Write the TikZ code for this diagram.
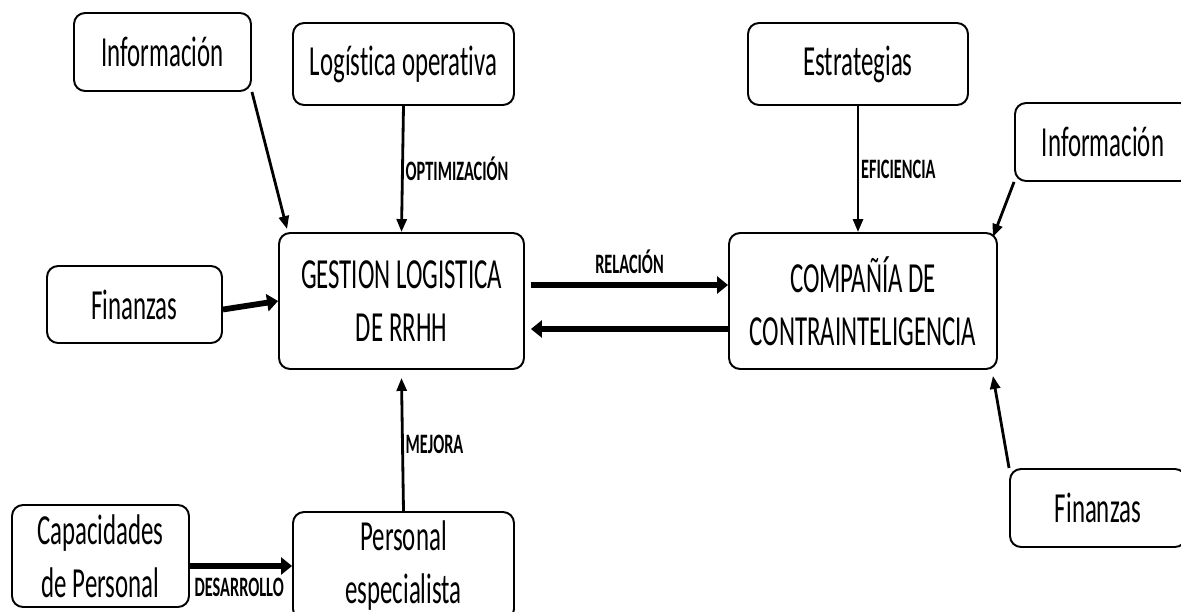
\documentclass[tikz,border=0pt]{standalone}
\usepackage{fontspec}
\setmainfont{Carlito}[FakeStretch=0.58,Ligatures=NoCommon]
\usetikzlibrary{arrows.meta,calc}

\begin{document}
\begin{tikzpicture}[x=0.02cm,y=-0.02cm,
                        caja/.style={shape=rectangle,draw,line width=1.1pt,rounded corners=0.22cm,align=center,inner sep=0pt,
                                font=\fontsize{24.4}{30.2}\selectfont},
                        flecha/.style={line width=1.6pt,-{Triangle[length=0.26cm,width=0.2cm]}},
                        flecha2/.style={line width=3.3pt,-{Triangle[length=0.22cm,width=0.34cm]}},
                        etiqueta/.style={font=\fontsize{16}{18}\selectfont\bfseries,inner sep=1pt}
                        ]
                        \useasboundingbox (0,0) rectangle (1181,612);
                        %Gestion logistica de RRHH
                        \node [caja,minimum width=4.9cm,minimum height=2.72cm] (gestion) at (401.5,301) {GESTION LOGISTICA\\DE RRHH};
                        \node [caja,minimum width=3.54cm,minimum height=1.56cm] (infoL) at (162.5,52) {Información};
                        \node [caja,minimum width=4.42cm,minimum height=1.64cm] (logop) at (403.5,64) {Logística operativa};
                        \node [caja,minimum width=3.5cm,minimum height=1.54cm] (finL) at (134.5,304.5) {Finanzas};
                        \node [caja,minimum width=4.42cm,minimum height=2.16cm] (perso) at (403.5,566) {Personal\\especialista};
                        \node [caja,minimum width=3.54cm,minimum height=2.04cm] (capac) at (100.5,556) {Capacidades\\de Personal};
                        %Compania de contrainteligencia
                        \node [caja,minimum width=5.36cm,minimum height=2.72cm] (comp) at (863,301) {COMPAÑÍA DE\\CONTRAINTELIGENCIA};
                        \node [caja,minimum width=4.4cm,minimum height=1.64cm] (estr) at (858,64) {Estrategias};
                        \node [caja,minimum width=3.52cm,minimum height=1.56cm] (infoR) at (1103,142) {Información};
                        \node [caja,minimum width=3.52cm,minimum height=1.56cm] (finR) at (1098,508) {Finanzas};
                        %Flechas
                        \draw [flecha] (infoL.south east) -- ($(gestion.north west)+(9,-3)$);
                        \draw [flecha] (logop.south) -- node [etiqueta,right] {OPTIMIZACIÓN} (gestion.north);
                        \draw [flecha2] ($(finL.east)+(0,5)$) -- (gestion.west);
                        \draw [flecha] (perso.north) -- node [etiqueta,right] {MEJORA} ($(gestion.south)+(0,8)$);
                        \draw [flecha2] (capac.east |- perso.west) -- node [etiqueta,pos=0,below right,yshift=-4pt] {DESARROLLO} (perso.west);
                        \draw [flecha2] ($(gestion.east)+(6,-16)$) -- node [etiqueta,above=4pt] {RELACIÓN} ($(comp.west)+(0,-16)$);
                        \draw [flecha2] ($(comp.west)+(0,28)$) -- ($(gestion.east)+(6,28)$);
                        \draw [flecha] (estr.south) -- node [etiqueta,right] {EFICIENCIA} (estr.south |- comp.north);
                        \draw [flecha] (infoR.south west) -- ($(comp.north east)+(-5,5)$);
                        \draw [flecha] (finR.north west) -- ($(comp.south east)+(-5,6)$);
                \end{tikzpicture}
\end{document}
